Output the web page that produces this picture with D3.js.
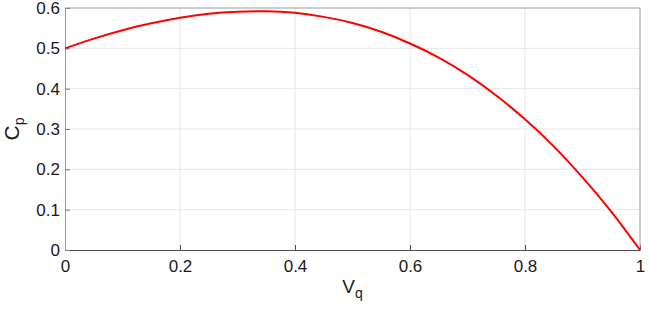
<!DOCTYPE html>
<html>
<head>
<meta charset="utf-8">
<script src="https://cdn.jsdelivr.net/npm/d3@7"></script>
<style>
  body { margin: 0; background: #fff; }
  text { font-family: "Liberation Sans", Arial, sans-serif; }
</style>
</head>
<body>
<script>
// values
const vq = [0, 0.05, 0.1, 0.15, 0.2, 0.25, 0.3, 0.35, 0.4, 0.45, 0.5,
            0.55, 0.6, 0.65, 0.7, 0.75, 0.8, 0.85, 0.9, 0.95, 1];
const cp = [0.500, 0.524, 0.545, 0.562, 0.576, 0.586, 0.591, 0.592, 0.588, 0.578, 0.563,
            0.541, 0.512, 0.477, 0.434, 0.383, 0.324, 0.257, 0.180, 0.095, 0];
const xTicks = [0, 0.2, 0.4, 0.6, 0.8, 1];
const yTicks = [0, 0.1, 0.2, 0.3, 0.4, 0.5, 0.6];

const W = 650, H = 313;
const margin = {top: 8, right: 10, bottom: 63, left: 65};
const width = W - margin.left - margin.right,
      height = H - margin.top - margin.bottom;

const svg = d3.select("body").append("svg")
  .attr("width", W).attr("height", H);
const g = svg.append("g")
  .attr("transform", "translate(" + margin.left + "," + margin.top + ")");

const x = d3.scaleLinear().domain([0, 1]).range([0, width]);
const y = d3.scaleLinear().domain([0, 0.6]).range([height, 0]);

// grid
g.append("g").selectAll("line").data(xTicks.slice(1, -1)).enter().append("line")
  .attr("x1", d => x(d)).attr("x2", d => x(d))
  .attr("y1", 0).attr("y2", height)
  .attr("stroke", "#e6e6e6").attr("stroke-width", 1);
g.append("g").selectAll("line").data(yTicks.slice(1, -1)).enter().append("line")
  .attr("y1", d => y(d)).attr("y2", d => y(d))
  .attr("x1", 0).attr("x2", width)
  .attr("stroke", "#e6e6e6").attr("stroke-width", 1);

// axes (inward ticks)
const xAxis = g.append("g")
  .attr("transform", "translate(0," + height + ")")
  .call(d3.axisBottom(x).tickValues(xTicks).tickSizeInner(-5).tickSizeOuter(0)
    .tickPadding(10).tickFormat(d3.format("~g")));
const yAxis = g.append("g")
  .call(d3.axisLeft(y).tickValues(yTicks).tickSizeInner(-5).tickSizeOuter(0)
    .tickPadding(5).tickFormat(d3.format("~g")));
xAxis.select(".domain").attr("stroke", "#4d4d4d");
yAxis.select(".domain").attr("stroke", "#9a9a9a");
xAxis.selectAll(".tick line").attr("stroke", "#4d4d4d");
yAxis.selectAll(".tick line").attr("stroke", "#777");
[xAxis, yAxis].forEach(a => a.selectAll("text")
  .attr("font-size", 17).attr("fill", "#1a1a1a")
  .attr("font-family", "'Liberation Sans', Arial, sans-serif"));

// top / right box
g.append("line").attr("x1", 0).attr("x2", width).attr("y1", 0).attr("y2", 0)
  .attr("stroke", "#9a9a9a");
g.append("line").attr("x1", width).attr("x2", width).attr("y1", 0).attr("y2", height)
  .attr("stroke", "#9a9a9a");

// curve
const pts = vq.map((v, i) => [v, cp[i]]);
g.append("path").datum(pts)
  .attr("fill", "none").attr("stroke", "#ff0000").attr("stroke-width", 2)
  .attr("d", d3.line().x(d => x(d[0])).y(d => y(d[1])).curve(d3.curveNatural));

// labels
const xl = svg.append("text")
  .attr("x", margin.left + width / 2).attr("y", 293)
  .attr("text-anchor", "middle").attr("font-size", 19).attr("fill", "#1a1a1a");
xl.append("tspan").text("V");
xl.append("tspan").attr("font-size", 14).attr("dy", 5).text("q");

const yl = svg.append("text")
  .attr("transform", "translate(19," + (margin.top + height / 2) + ") rotate(-90)")
  .attr("text-anchor", "middle").attr("font-size", 21).attr("fill", "#1a1a1a");
yl.append("tspan").text("C");
yl.append("tspan").attr("font-size", 14).attr("dy", 5).text("p");
</script>
</body>
</html>
